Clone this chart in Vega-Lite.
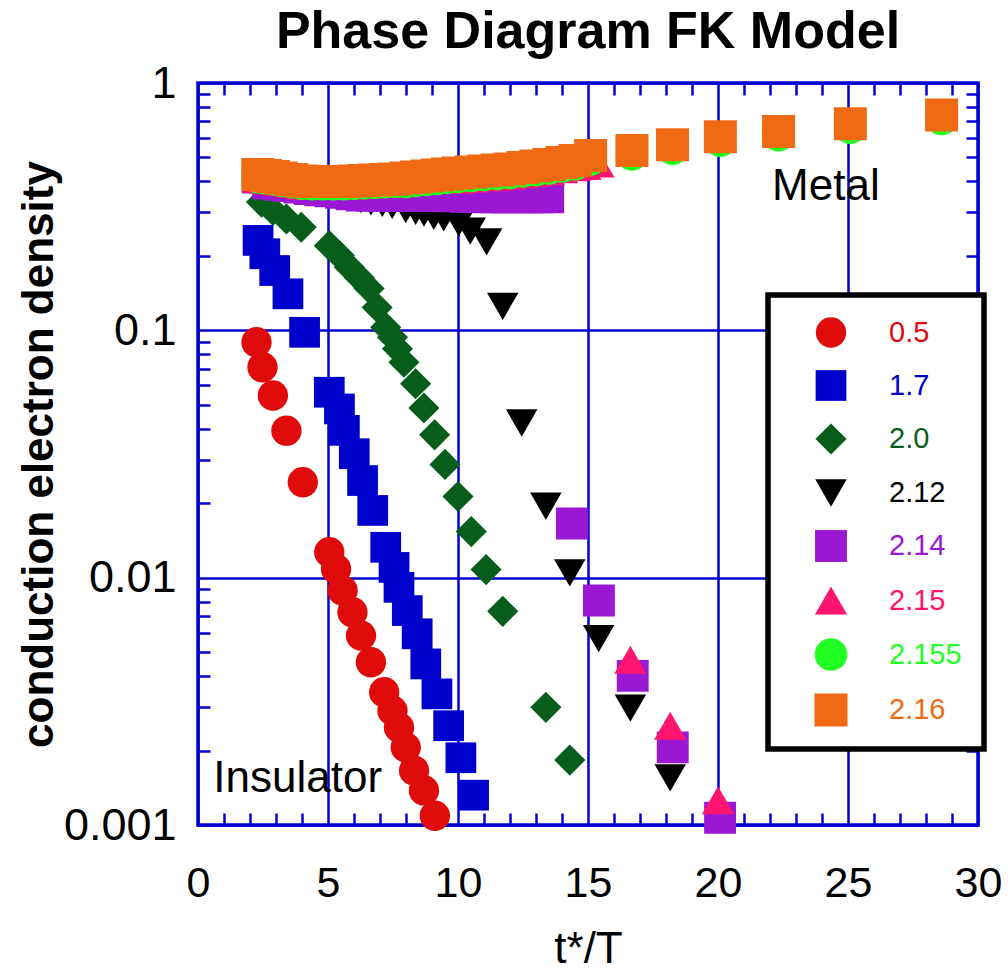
{
  "$schema": "https://vega.github.io/schema/vega-lite/v6.json",
  "width": 780,
  "height": 742,
  "autosize": {"type": "none"},
  "padding": {"left": 198, "top": 83, "right": 30, "bottom": 145},
  "title": {"text": "Phase Diagram FK Model", "fontSize": 52, "font": "Liberation Sans", "fontWeight": "bold", "offset": 2, "anchor": "middle", "color": "black"},
  "config": {
    "view": {"stroke": "#0000d4", "strokeWidth": 3.5},
    "font": "Liberation Sans",
    "legend": {"labelFontSize": 29, "labelFont": "Liberation Sans", "symbolSize": 1000, "strokeColor": "black", "strokeWidth": 5.5, "padding": 22, "rowPadding": 22, "symbolOffset": 24, "labelOffset": 41, "symbolStrokeWidth": 0, "fillColor": "white"}
  },
  "datasets": {
    "pts": [
      {"s": "0.5", "x": 2.25, "y": 0.0895}, {"s": "0.5", "x": 2.48, "y": 0.0709}, {"s": "0.5", "x": 2.88, "y": 0.0545}, {"s": "0.5", "x": 3.40, "y": 0.0393}, {"s": "0.5", "x": 4.03, "y": 0.0243}, {"s": "0.5", "x": 5.05, "y": 0.01267}, {"s": "0.5", "x": 5.31, "y": 0.01085}, {"s": "0.5", "x": 5.56, "y": 0.00887}, {"s": "0.5", "x": 5.94, "y": 0.00725}, {"s": "0.5", "x": 6.27, "y": 0.00583}, {"s": "0.5", "x": 6.65, "y": 0.00455}, {"s": "0.5", "x": 7.16, "y": 0.00344}, {"s": "0.5", "x": 7.48, "y": 0.0029}, {"s": "0.5", "x": 7.73, "y": 0.00248}, {"s": "0.5", "x": 7.99, "y": 0.00206}, {"s": "0.5", "x": 8.31, "y": 0.00166}, {"s": "0.5", "x": 8.69, "y": 0.00138}, {"s": "0.5", "x": 9.11, "y": 0.00109},

      {"s": "1.7", "x": 2.31, "y": 0.231}, {"s": "1.7", "x": 2.57, "y": 0.204}, {"s": "1.7", "x": 2.95, "y": 0.1745}, {"s": "1.7", "x": 3.46, "y": 0.1405}, {"s": "1.7", "x": 4.10, "y": 0.0982}, {"s": "1.7", "x": 5.05, "y": 0.0562}, {"s": "1.7", "x": 5.44, "y": 0.0481}, {"s": "1.7", "x": 5.63, "y": 0.0394}, {"s": "1.7", "x": 6.01, "y": 0.0317}, {"s": "1.7", "x": 6.33, "y": 0.0247}, {"s": "1.7", "x": 6.72, "y": 0.0187}, {"s": "1.7", "x": 7.22, "y": 0.01327}, {"s": "1.7", "x": 7.54, "y": 0.011}, {"s": "1.7", "x": 7.73, "y": 0.00914}, {"s": "1.7", "x": 8.05, "y": 0.00736}, {"s": "1.7", "x": 8.43, "y": 0.00593}, {"s": "1.7", "x": 8.76, "y": 0.00448}, {"s": "1.7", "x": 9.19, "y": 0.00339}, {"s": "1.7", "x": 9.64, "y": 0.00252}, {"s": "1.7", "x": 10.11, "y": 0.00187}, {"s": "1.7", "x": 10.6, "y": 0.00132},

      {"s": "2.0", "x": 2.44, "y": 0.330}, {"s": "2.0", "x": 2.88, "y": 0.305}, {"s": "2.0", "x": 3.40, "y": 0.282}, {"s": "2.0", "x": 3.97, "y": 0.261}, {"s": "2.0", "x": 5.05, "y": 0.220}, {"s": "2.0", "x": 5.44, "y": 0.2006}, {"s": "2.0", "x": 5.82, "y": 0.180}, {"s": "2.0", "x": 6.20, "y": 0.1634}, {"s": "2.0", "x": 6.58, "y": 0.1476}, {"s": "2.0", "x": 6.89, "y": 0.1237}, {"s": "2.0", "x": 7.22, "y": 0.1029}, {"s": "2.0", "x": 7.48, "y": 0.0938}, {"s": "2.0", "x": 7.67, "y": 0.0842}, {"s": "2.0", "x": 7.92, "y": 0.0743}, {"s": "2.0", "x": 8.37, "y": 0.0608}, {"s": "2.0", "x": 8.69, "y": 0.0485}, {"s": "2.0", "x": 9.10, "y": 0.0378}, {"s": "2.0", "x": 9.50, "y": 0.0287}, {"s": "2.0", "x": 10.0, "y": 0.0213}, {"s": "2.0", "x": 10.51, "y": 0.01536}, {"s": "2.0", "x": 11.08, "y": 0.01078}, {"s": "2.0", "x": 11.72, "y": 0.00731}, {"s": "2.0", "x": 13.38, "y": 0.00299}, {"s": "2.0", "x": 14.30, "y": 0.00183},

      {"s": "2.12", "x": 2.4, "y": 0.40}, {"s": "2.12", "x": 2.9, "y": 0.385}, {"s": "2.12", "x": 3.4, "y": 0.375}, {"s": "2.12", "x": 3.9, "y": 0.368}, {"s": "2.12", "x": 4.4, "y": 0.362}, {"s": "2.12", "x": 4.9, "y": 0.357}, {"s": "2.12", "x": 5.4, "y": 0.352}, {"s": "2.12", "x": 5.9, "y": 0.347}, {"s": "2.12", "x": 6.27, "y": 0.338}, {"s": "2.12", "x": 6.65, "y": 0.331}, {"s": "2.12", "x": 7.09, "y": 0.326}, {"s": "2.12", "x": 7.47, "y": 0.320}, {"s": "2.12", "x": 7.99, "y": 0.308}, {"s": "2.12", "x": 8.37, "y": 0.303}, {"s": "2.12", "x": 8.69, "y": 0.298}, {"s": "2.12", "x": 9.07, "y": 0.289}, {"s": "2.12", "x": 9.45, "y": 0.285}, {"s": "2.12", "x": 10.03, "y": 0.272}, {"s": "2.12", "x": 10.47, "y": 0.252}, {"s": "2.12", "x": 11.10, "y": 0.228}, {"s": "2.12", "x": 11.72, "y": 0.125}, {"s": "2.12", "x": 12.45, "y": 0.0422}, {"s": "2.12", "x": 13.38, "y": 0.01944}, {"s": "2.12", "x": 14.30, "y": 0.01045}, {"s": "2.12", "x": 15.41, "y": 0.00567}, {"s": "2.12", "x": 16.63, "y": 0.00297}, {"s": "2.12", "x": 18.16, "y": 0.00155},

      {"s": "2.14", "x": 2.3, "y": 0.415}, {"s": "2.14", "x": 2.7, "y": 0.392}, {"s": "2.14", "x": 3.1, "y": 0.388}, {"s": "2.14", "x": 3.5, "y": 0.383}, {"s": "2.14", "x": 3.9, "y": 0.378}, {"s": "2.14", "x": 4.3, "y": 0.373}, {"s": "2.14", "x": 4.7, "y": 0.368}, {"s": "2.14", "x": 5.1, "y": 0.365}, {"s": "2.14", "x": 5.5, "y": 0.36}, {"s": "2.14", "x": 5.9, "y": 0.355}, {"s": "2.14", "x": 6.3, "y": 0.351}, {"s": "2.14", "x": 6.7, "y": 0.35}, {"s": "2.14", "x": 7.1, "y": 0.35}, {"s": "2.14", "x": 7.5, "y": 0.35}, {"s": "2.14", "x": 7.9, "y": 0.35}, {"s": "2.14", "x": 8.3, "y": 0.35}, {"s": "2.14", "x": 8.7, "y": 0.35}, {"s": "2.14", "x": 9.1, "y": 0.35}, {"s": "2.14", "x": 9.5, "y": 0.349}, {"s": "2.14", "x": 9.9, "y": 0.348}, {"s": "2.14", "x": 10.3, "y": 0.347}, {"s": "2.14", "x": 10.7, "y": 0.346}, {"s": "2.14", "x": 11.1, "y": 0.345}, {"s": "2.14", "x": 11.5, "y": 0.345}, {"s": "2.14", "x": 11.9, "y": 0.345}, {"s": "2.14", "x": 12.3, "y": 0.345}, {"s": "2.14", "x": 12.7, "y": 0.345}, {"s": "2.14", "x": 13.1, "y": 0.345}, {"s": "2.14", "x": 13.47, "y": 0.345}, {"s": "2.14", "x": 14.38, "y": 0.01655}, {"s": "2.14", "x": 15.42, "y": 0.00808}, {"s": "2.14", "x": 16.72, "y": 0.00401}, {"s": "2.14", "x": 18.26, "y": 0.00206}, {"s": "2.14", "x": 20.08, "y": 0.00107},

      {"s": "2.15", "x": 2.3, "y": 0.4095}, {"s": "2.15", "x": 2.6, "y": 0.4058}, {"s": "2.15", "x": 2.9, "y": 0.402}, {"s": "2.15", "x": 3.2, "y": 0.3964}, {"s": "2.15", "x": 3.6, "y": 0.3909}, {"s": "2.15", "x": 4.0, "y": 0.3854}, {"s": "2.15", "x": 4.4, "y": 0.3836}, {"s": "2.15", "x": 4.8, "y": 0.3836}, {"s": "2.15", "x": 5.2, "y": 0.3836}, {"s": "2.15", "x": 5.6, "y": 0.3836}, {"s": "2.15", "x": 6.0, "y": 0.3854}, {"s": "2.15", "x": 6.4, "y": 0.3873}, {"s": "2.15", "x": 6.8, "y": 0.3891}, {"s": "2.15", "x": 7.2, "y": 0.3909}, {"s": "2.15", "x": 7.6, "y": 0.3927}, {"s": "2.15", "x": 8.0, "y": 0.3964}, {"s": "2.15", "x": 8.4, "y": 0.4002}, {"s": "2.15", "x": 8.8, "y": 0.4039}, {"s": "2.15", "x": 9.2, "y": 0.4076}, {"s": "2.15", "x": 9.6, "y": 0.4115}, {"s": "2.15", "x": 10.0, "y": 0.4066}, {"s": "2.15", "x": 10.5, "y": 0.4104}, {"s": "2.15", "x": 11.0, "y": 0.4143}, {"s": "2.15", "x": 11.5, "y": 0.4181}, {"s": "2.15", "x": 12.0, "y": 0.4221}, {"s": "2.15", "x": 12.5, "y": 0.428}, {"s": "2.15", "x": 13.0, "y": 0.434}, {"s": "2.15", "x": 13.5, "y": 0.4401}, {"s": "2.15", "x": 14.0, "y": 0.4484}, {"s": "2.15", "x": 14.5, "y": 0.4568}, {"s": "2.15", "x": 14.9, "y": 0.462}, {"s": "2.15", "x": 15.4, "y": 0.472}, {"s": "2.15", "x": 16.63, "y": 0.00466}, {"s": "2.15", "x": 18.16, "y": 0.00252}, {"s": "2.15", "x": 20.0, "y": 0.00126},

      {"s": "2.155", "x": 2.3, "y": 0.4159}, {"s": "2.155", "x": 2.6, "y": 0.4121}, {"s": "2.155", "x": 2.9, "y": 0.4083}, {"s": "2.155", "x": 3.2, "y": 0.4026}, {"s": "2.155", "x": 3.6, "y": 0.397}, {"s": "2.155", "x": 4.0, "y": 0.3915}, {"s": "2.155", "x": 4.4, "y": 0.3896}, {"s": "2.155", "x": 4.8, "y": 0.3896}, {"s": "2.155", "x": 5.2, "y": 0.3896}, {"s": "2.155", "x": 5.6, "y": 0.3896}, {"s": "2.155", "x": 6.0, "y": 0.3915}, {"s": "2.155", "x": 6.4, "y": 0.3933}, {"s": "2.155", "x": 6.8, "y": 0.3952}, {"s": "2.155", "x": 7.2, "y": 0.397}, {"s": "2.155", "x": 7.6, "y": 0.3989}, {"s": "2.155", "x": 8.0, "y": 0.3984}, {"s": "2.155", "x": 8.4, "y": 0.4023}, {"s": "2.155", "x": 8.8, "y": 0.406}, {"s": "2.155", "x": 9.2, "y": 0.4097}, {"s": "2.155", "x": 9.6, "y": 0.4136}, {"s": "2.155", "x": 10.0, "y": 0.4174}, {"s": "2.155", "x": 10.5, "y": 0.4213}, {"s": "2.155", "x": 11.0, "y": 0.4253}, {"s": "2.155", "x": 11.5, "y": 0.4292}, {"s": "2.155", "x": 12.0, "y": 0.4333}, {"s": "2.155", "x": 12.5, "y": 0.4394}, {"s": "2.155", "x": 13.0, "y": 0.4455}, {"s": "2.155", "x": 13.5, "y": 0.4518}, {"s": "2.155", "x": 14.0, "y": 0.4603}, {"s": "2.155", "x": 14.5, "y": 0.469}, {"s": "2.155", "x": 15.1, "y": 0.491}, {"s": "2.155", "x": 16.69, "y": 0.514}, {"s": "2.155", "x": 18.25, "y": 0.543}, {"s": "2.155", "x": 20.09, "y": 0.585}, {"s": "2.155", "x": 22.33, "y": 0.615}, {"s": "2.155", "x": 25.09, "y": 0.66}, {"s": "2.155", "x": 28.6, "y": 0.716},

      {"s": "2.16", "x": 2.3, "y": 0.4266}, {"s": "2.16", "x": 2.6, "y": 0.4227}, {"s": "2.16", "x": 2.9, "y": 0.4188}, {"s": "2.16", "x": 3.2, "y": 0.4129}, {"s": "2.16", "x": 3.6, "y": 0.4072}, {"s": "2.16", "x": 4.0, "y": 0.4015}, {"s": "2.16", "x": 4.4, "y": 0.3996}, {"s": "2.16", "x": 4.8, "y": 0.3996}, {"s": "2.16", "x": 5.2, "y": 0.3996}, {"s": "2.16", "x": 5.6, "y": 0.3996}, {"s": "2.16", "x": 6.0, "y": 0.4015}, {"s": "2.16", "x": 6.4, "y": 0.4034}, {"s": "2.16", "x": 6.8, "y": 0.4053}, {"s": "2.16", "x": 7.2, "y": 0.4072}, {"s": "2.16", "x": 7.6, "y": 0.4091}, {"s": "2.16", "x": 8.0, "y": 0.4129}, {"s": "2.16", "x": 8.4, "y": 0.4169}, {"s": "2.16", "x": 8.8, "y": 0.4207}, {"s": "2.16", "x": 9.2, "y": 0.4246}, {"s": "2.16", "x": 9.6, "y": 0.4286}, {"s": "2.16", "x": 10.0, "y": 0.4325}, {"s": "2.16", "x": 10.5, "y": 0.4366}, {"s": "2.16", "x": 11.0, "y": 0.4407}, {"s": "2.16", "x": 11.5, "y": 0.4448}, {"s": "2.16", "x": 12.0, "y": 0.449}, {"s": "2.16", "x": 12.5, "y": 0.4553}, {"s": "2.16", "x": 13.0, "y": 0.4617}, {"s": "2.16", "x": 13.5, "y": 0.4682}, {"s": "2.16", "x": 14.0, "y": 0.477}, {"s": "2.16", "x": 14.5, "y": 0.486}, {"s": "2.16", "x": 15.1, "y": 0.509}, {"s": "2.16", "x": 16.69, "y": 0.533}, {"s": "2.16", "x": 18.25, "y": 0.563}, {"s": "2.16", "x": 20.09, "y": 0.606}, {"s": "2.16", "x": 22.33, "y": 0.637}, {"s": "2.16", "x": 25.09, "y": 0.684}, {"s": "2.16", "x": 28.6, "y": 0.742}
    ],
    "notes": [
      {"x": 22.08, "y": 0.335, "t": "Metal"},
      {"x": 0.59, "y": 0.001355, "t": "Insulator"}
    ],
    "helper": [{"x": 1, "y": 0.5}]
  },
  "layer": [
    {
      "data": {"name": "pts"},
      "mark": {"type": "point", "filled": true, "opacity": 1, "strokeWidth": 0},
      "encoding": {
        "x": {"field": "x", "type": "quantitative",
          "scale": {"domain": [0, 30], "nice": false, "zero": false},
          "axis": {"orient": "bottom", "values": [0, 5, 10, 15, 20, 25, 30], "grid": true, "gridColor": "#0000d4", "gridWidth": 2.5, "gridOpacity": 1, "ticks": false, "domain": false, "labelFontSize": 43, "labelPadding": 37, "labelColor": "black", "labelFlush": false, "labelOverlap": false, "labelFont": "Liberation Sans", "title": "t*/T", "titleFontSize": 44, "titleFontWeight": "normal", "titlePadding": 22, "titleColor": "black", "titleFont": "Liberation Sans"}},
        "y": {"field": "y", "type": "quantitative",
          "scale": {"type": "log", "domain": [0.001, 1], "nice": false},
          "axis": {"orient": "left", "values": [0.001, 0.01, 0.1, 1], "format": "~g", "grid": true, "gridColor": "#0000d4", "gridWidth": 2.5, "gridOpacity": 1, "ticks": false, "domain": false, "labelFontSize": 45, "labelPadding": 22, "labelColor": "black", "labelFlush": false, "labelOverlap": false, "labelFont": "Liberation Sans", "title": "conduction electron density", "titleFontSize": 44, "titleFontWeight": "bold", "titlePadding": 2, "titleColor": "black", "titleFont": "Liberation Sans"}},
        "color": {"field": "s", "type": "nominal",
          "scale": {"domain": ["0.5", "1.7", "2.0", "2.12", "2.14", "2.15", "2.155", "2.16"], "range": ["#df0a0a", "#0000cd", "#075e1c", "#000000", "#9a18d4", "#ff1470", "#22ff22", "#f06a14"]},
          "legend": {"orient": "none", "legendX": 570, "legendY": 212, "title": null, "labelColor": {"expr": "scale('color', datum.value)"}}},
        "shape": {"field": "s", "type": "nominal",
          "scale": {"domain": ["0.5", "1.7", "2.0", "2.12", "2.14", "2.15", "2.155", "2.16"], "range": ["circle", "square", "diamond", "triangle-down", "square", "triangle-up", "circle", "square"]},
          "legend": {"orient": "none", "legendX": 570, "legendY": 212, "title": null, "labelColor": {"expr": "scale('color', datum.value)"}}},
        "size": {"field": "s", "type": "ordinal",
          "scale": {"domain": ["0.5", "1.7", "2.0", "2.12", "2.14", "2.15", "2.155", "2.16"], "range": [920, 1090, 1350, 880, 1150, 880, 920, 1225]},
          "legend": null}
      }
    },
    {
      "data": {"name": "helper"},
      "mark": {"type": "point", "opacity": 0},
      "encoding": {
        "x": {"field": "x", "type": "quantitative", "scale": {"domain": [0, 30], "nice": false, "zero": false},
          "axis": {"orient": "bottom", "values": [1, 2, 3, 4, 6, 7, 8, 9, 11, 12, 13, 14, 16, 17, 18, 19, 21, 22, 23, 24, 26, 27, 28, 29], "tickSize": -12, "tickColor": "#0000d4", "tickWidth": 2.5, "labels": false, "domain": false, "grid": false, "title": null}},
        "y": {"field": "y", "type": "quantitative", "scale": {"type": "log", "domain": [0.001, 1], "nice": false},
          "axis": {"orient": "left", "values": [0.002, 0.003, 0.004, 0.005, 0.006, 0.007, 0.008, 0.009, 0.02, 0.03, 0.04, 0.05, 0.06, 0.07, 0.08, 0.09, 0.2, 0.3, 0.4, 0.5, 0.6, 0.7, 0.8, 0.9], "tickSize": -12, "tickColor": "#0000d4", "tickWidth": 2.5, "labels": false, "domain": false, "grid": false, "title": null}}
      }
    },
    {
      "data": {"name": "helper"},
      "mark": {"type": "point", "opacity": 0},
      "encoding": {
        "x": {"field": "x", "type": "quantitative", "scale": {"domain": [0, 30], "nice": false, "zero": false},
          "axis": {"orient": "top", "values": [1, 2, 3, 4, 6, 7, 8, 9, 11, 12, 13, 14, 16, 17, 18, 19, 21, 22, 23, 24, 26, 27, 28, 29], "tickSize": -12, "tickColor": "#0000d4", "tickWidth": 2.5, "labels": false, "domain": false, "grid": false, "title": null}},
        "y": {"field": "y", "type": "quantitative", "scale": {"type": "log", "domain": [0.001, 1], "nice": false},
          "axis": {"orient": "right", "values": [0.002, 0.003, 0.004, 0.005, 0.006, 0.007, 0.008, 0.009, 0.02, 0.03, 0.04, 0.05, 0.06, 0.07, 0.08, 0.09, 0.2, 0.3, 0.4, 0.5, 0.6, 0.7, 0.8, 0.9], "tickSize": -12, "tickColor": "#0000d4", "tickWidth": 2.5, "labels": false, "domain": false, "grid": false, "title": null}}
      }
    },
    {
      "data": {"name": "notes"},
      "mark": {"type": "text", "align": "left", "baseline": "alphabetic", "fontSize": 44, "font": "Liberation Sans", "color": "black"},
      "encoding": {
        "x": {"field": "x", "type": "quantitative", "scale": {"domain": [0, 30], "nice": false, "zero": false}, "axis": null},
        "y": {"field": "y", "type": "quantitative", "scale": {"type": "log", "domain": [0.001, 1], "nice": false}, "axis": null},
        "text": {"field": "t", "type": "nominal"}
      }
    }
  ],
  "resolve": {"axis": {"x": "independent", "y": "independent"}}
}
